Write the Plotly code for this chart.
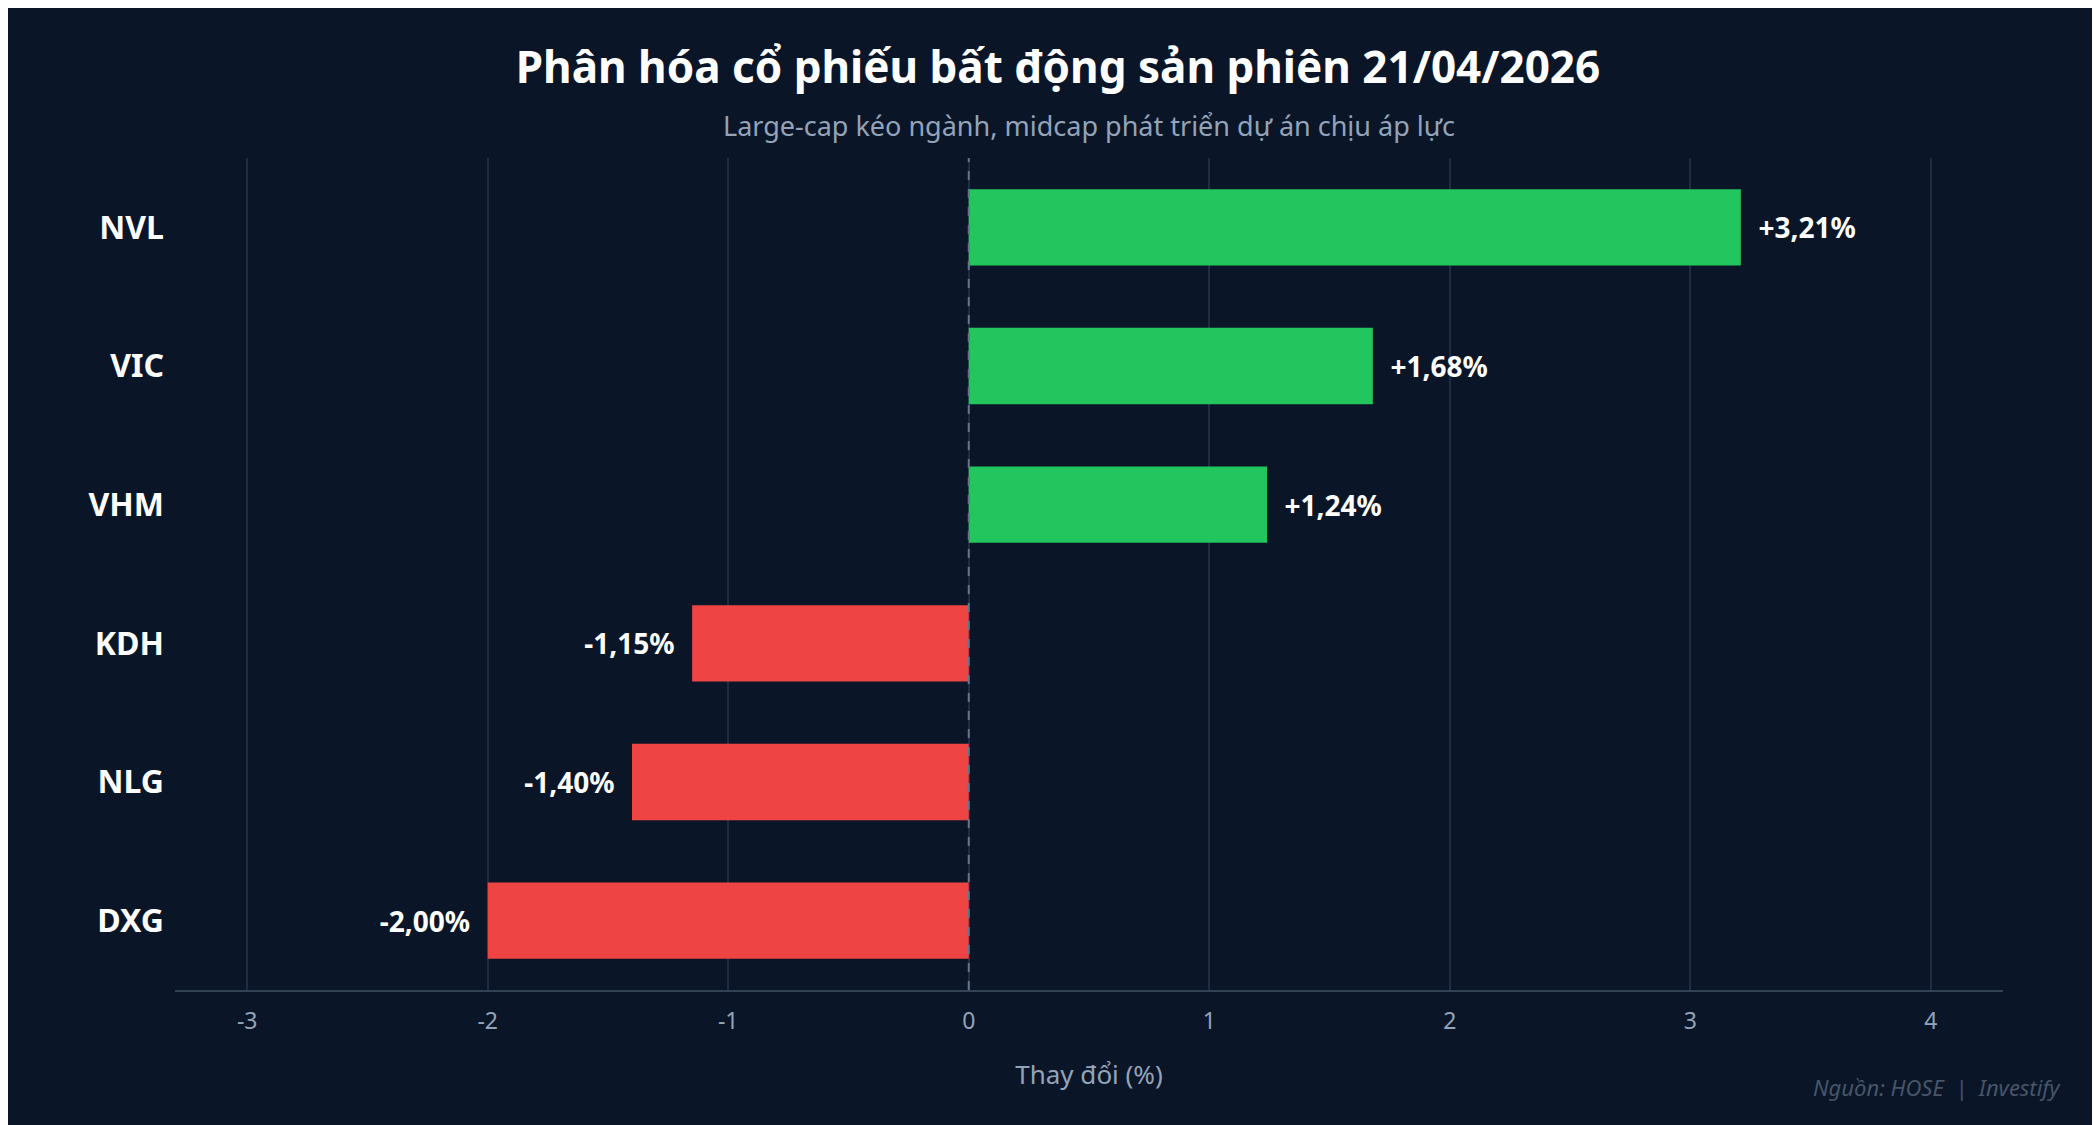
import plotly.graph_objects as go

tickers = ["DXG", "NLG", "KDH", "VHM", "VIC", "NVL"]
changes = [-2.00, -1.40, -1.15, 1.24, 1.68, 3.21]
labels = ["-2,00%", "-1,40%", "-1,15%", "+1,24%", "+1,68%", "+3,21%"]
tick_vals = [-3, -2, -1, 0, 1, 2, 3, 4]
tick_text = ["-3", "-2", "-1", "0", "1", "2", "3", "4"]
colors = ["#ef4444" if v < 0 else "#22c55e" for v in changes]
padded = [("  " + t) if v > 0 else (t + "  ") for t, v in zip(labels, changes)]

bg = "#0a1628"
fig = go.Figure(go.Bar(
    x=changes, y=tickers, orientation="h", width=0.55,
    marker=dict(color=colors, line=dict(width=0)),
    text=padded, textposition="outside", cliponaxis=False,
    textfont=dict(family="Noto Sans", size=28, color="white", weight="bold"),
))
fig.add_vline(x=0, line=dict(color="#64748b", width=2, dash="dash"))
fig.update_layout(
    width=2100, height=1125, paper_bgcolor=bg, plot_bgcolor=bg,
    margin=dict(l=167, r=105, t=150, b=143),
    font=dict(family="Noto Sans", color="#94a3b8"),
    title=dict(text="<b>Phân hóa cổ phiếu bất động sản phiên 21/04/2026</b>",
               x=0.5, xanchor="center", y=0.947, yanchor="middle",
               font=dict(size=44, color="white")),
    showlegend=False,
    annotations=[
        dict(text="Large-cap kéo ngành, midcap phát triển dự án chịu áp lực",
             xref="paper", yref="paper", x=0.5, y=1.0, yshift=33, showarrow=False,
             font=dict(size=27, color="#94a3b8"), xanchor="center", yanchor="middle"),
        dict(text="<i>Nguồn: HOSE  |  Investify</i>", xref="paper", yref="paper",
             x=1.0, xshift=60, y=0, yshift=-97, showarrow=False, xanchor="right",
             yanchor="middle", font=dict(size=22, color="#475569")),
    ],
)
fig.update_xaxes(range=[-3.3, 4.3], tickvals=tick_vals, ticktext=tick_text,
                 gridcolor="#1e2d44", gridwidth=1.5,
                 zeroline=False, showline=True, linecolor="#334155", linewidth=1.5,
                 tickfont=dict(size=23, color="#94a3b8"), ticks="", ticklabelstandoff=10,
                 title=dict(text="Thay đổi (%)", font=dict(size=26, color="#94a3b8"), standoff=30))
fig.update_yaxes(showgrid=False, zeroline=False, ticks="", ticklabelstandoff=10,
                 tickfont=dict(size=32, color="white", weight="bold"))
fig.write_html("out.html")
